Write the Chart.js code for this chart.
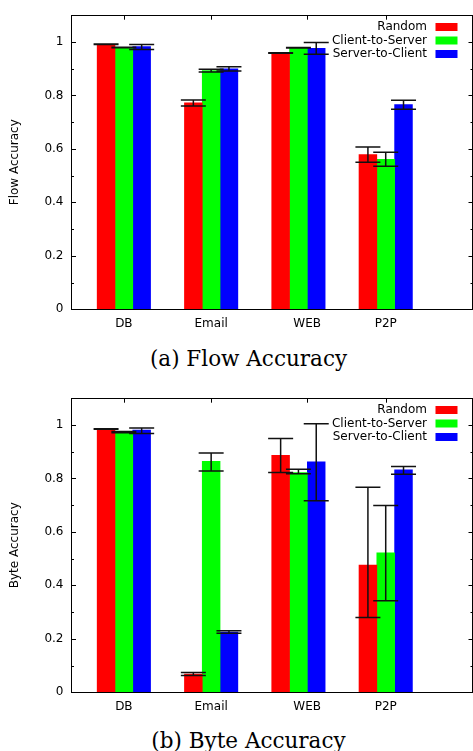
<!DOCTYPE html>
<html>
<head>
<meta charset="utf-8">
<script src="https://cdn.jsdelivr.net/npm/chart.js@4.4.1/dist/chart.umd.min.js"></script>
<style>
body { margin: 0; background: #fff; width: 473px; height: 751px; position: relative; overflow: hidden; }
canvas { position: absolute; left: 0; }
#c1 { top: 0; }
#c2 { top: 383px; }
.cap { position: absolute; left: 0; width: 497px; text-align: center; font-family: "DejaVu Serif"; font-size: 21.5px; line-height: 24px; color: #000; }
</style>
</head>
<body>
<canvas id="c1" width="473" height="340"></canvas>
<div class="cap" style="top:347px">(a) Flow Accuracy</div>
<canvas id="c2" width="473" height="340"></canvas>
<div class="cap" style="top:729px">(b) Byte Accuracy</div>
<script>
var categories = ['DB', 'Email', 'WEB', 'P2P'];
var categoryPos = [1, 2, 3, 4];
var tickPos = [1, 2, 3.1, 4];
var seriesNames = ['Random', 'Client-to-Server', 'Server-to-Client'];
var seriesColors = ['#ff0000', '#00ff00', '#0000ff'];
var yTicks = [0, 0.2, 0.4, 0.6, 0.8, 1];
var yTickLabels = ['0', '0.2', '0.4', '0.6', '0.8', '1'];

// (a) flow accuracy, with error bar low / high
var flowRandom   = [0.991, 0.772, 0.959, 0.579];
var flowRandomLo = [0.990, 0.760, 0.958, 0.550];
var flowRandomHi = [0.992, 0.783, 0.960, 0.607];
var flowC2S      = [0.979, 0.893, 0.978, 0.561];
var flowC2SLo    = [0.978, 0.888, 0.977, 0.535];
var flowC2SHi    = [0.980, 0.898, 0.979, 0.587];
var flowS2C      = [0.983, 0.899, 0.976, 0.766];
var flowS2CLo    = [0.972, 0.891, 0.954, 0.748];
var flowS2CHi    = [0.990, 0.907, 0.998, 0.782];

// (b) byte accuracy
var byteRandom   = [0.985, 0.068, 0.886, 0.476];
var byteRandomLo = [0.984, 0.063, 0.822, 0.280];
var byteRandomHi = [0.986, 0.074, 0.949, 0.767];
var byteC2S      = [0.973, 0.864, 0.822, 0.522];
var byteC2SLo    = [0.971, 0.828, 0.817, 0.342];
var byteC2SHi    = [0.975, 0.895, 0.834, 0.699];
var byteS2C      = [0.981, 0.225, 0.862, 0.832];
var byteS2CLo    = [0.968, 0.221, 0.716, 0.816];
var byteS2CHi    = [0.989, 0.230, 1.004, 0.845];

var sansFont = 'DejaVu Sans';

// ticks inside the box, error bars, box and gnuplot style key
var gnuplotLook = {
    id: 'gnuplotLook',
    beforeDatasetsDraw: function (chart) {
        var ctx = chart.ctx, a = chart.chartArea, y = chart.scales.y, x = chart.scales.x;
        ctx.save();
        ctx.strokeStyle = '#000';
        ctx.lineWidth = 1;
        ctx.beginPath();
        for (var i = 0; i <= 11; i++) {
            var v = i / 10;
            var len = (i % 2 == 0) ? 4.5 : 2.5;
            var py = Math.round(y.getPixelForValue(v)) + 0.5;
            ctx.moveTo(a.left, py); ctx.lineTo(a.left + len, py);
            ctx.moveTo(a.right, py); ctx.lineTo(a.right - len, py);
        }
        tickPos.forEach(function (t) {
            var px = Math.round(x.getPixelForValue(t)) + 0.5;
            ctx.moveTo(px, a.top); ctx.lineTo(px, a.top + 4.5);
            ctx.moveTo(px, a.bottom); ctx.lineTo(px, a.bottom - 4.5);
        });
        ctx.stroke();
        ctx.restore();
    },
    afterDatasetsDraw: function (chart, args, opts) {
        var ctx = chart.ctx, a = chart.chartArea, y = chart.scales.y;
        ctx.save();
        // error bars
        ctx.strokeStyle = '#111';
        ctx.lineWidth = 1.5;
        chart.data.datasets.forEach(function (ds, di) {
            var meta = chart.getDatasetMeta(di);
            meta.data.forEach(function (bar, j) {
                var lo = y.getPixelForValue(opts.lo[di][j]);
                var hi = y.getPixelForValue(opts.hi[di][j]);
                ctx.beginPath();
                ctx.moveTo(bar.x, lo); ctx.lineTo(bar.x, hi);
                ctx.moveTo(bar.x - 12.5, lo); ctx.lineTo(bar.x + 12.5, lo);
                ctx.moveTo(bar.x - 12.5, hi); ctx.lineTo(bar.x + 12.5, hi);
                ctx.stroke();
            });
        });
        // box
        ctx.strokeStyle = '#000';
        ctx.lineWidth = 1;
        var l = Math.floor(a.left) + 0.5, r = Math.ceil(a.right) - 0.5;
        var t = Math.floor(a.top) + 0.5, b = Math.round(a.bottom) + 0.5;
        ctx.strokeRect(l, t, r - l, b - t);
        // key
        ctx.font = '12px "' + sansFont + '"';
        ctx.textAlign = 'right';
        ctx.textBaseline = 'middle';
        chart.data.datasets.forEach(function (ds, di) {
            var ry = a.top + 11.8 + di * 13.5;
            ctx.fillStyle = '#000';
            ctx.fillText(ds.label, 427, ry);
            ctx.fillStyle = ds.backgroundColor;
            ctx.fillRect(435.5, ry - 4, 22, 8);
        });
        ctx.restore();
    }
};

function makeChart(id, yTitle, values, lows, highs) {
    var datasets = values.map(function (vals, k) {
        return {
            label: seriesNames[k],
            data: vals.map(function (v, j) { return { x: categoryPos[j], y: v }; }),
            backgroundColor: seriesColors[k],
            borderWidth: 0,
            barThickness: 17.8
        };
    });
    return new Chart(document.getElementById(id), {
        type: 'bar',
        data: { datasets: datasets },
        options: {
            responsive: false,
            animation: false,
            devicePixelRatio: 1,
            layout: { padding: { top: 6.7, right: 0, left: 0, bottom: 0 } },
            plugins: {
                legend: { display: false },
                tooltip: { enabled: false },
                gnuplotLook: { lo: lows, hi: highs }
            },
            scales: {
                x: {
                    type: 'linear',
                    min: 0.4,
                    max: 5,
                    offset: false,
                    grid: { display: false, drawTicks: false },
                    border: { display: false },
                    afterBuildTicks: function (scale) {
                        scale.ticks = tickPos.map(function (v) { return { value: v }; });
                    },
                    afterFit: function (scale) { scale.height = 30.7; },
                    ticks: {
                        autoSkip: false,
                        maxRotation: 0,
                        padding: 7,
                        color: '#000',
                        font: { family: sansFont, size: 12 },
                        callback: function (v) { return categories[tickPos.indexOf(v)]; }
                    }
                },
                y: {
                    min: 0,
                    max: 1.1,
                    grid: { display: false, drawTicks: false },
                    border: { display: false },
                    afterBuildTicks: function (scale) {
                        scale.ticks = yTicks.map(function (v) { return { value: v }; });
                    },
                    afterFit: function (scale) { scale.width = 71.5; },
                    ticks: {
                        padding: 8,
                        color: '#000',
                        font: { family: sansFont, size: 12 },
                        callback: function (v) { return yTickLabels[yTicks.indexOf(v)]; }
                    },
                    title: {
                        display: true,
                        text: yTitle,
                        color: '#000',
                        padding: { top: 8, bottom: 0 },
                        font: { family: sansFont, size: 12 }
                    }
                }
            }
        },
        plugins: [gnuplotLook]
    });
}

makeChart('c1', 'Flow Accuracy',
    [flowRandom, flowC2S, flowS2C],
    [flowRandomLo, flowC2SLo, flowS2CLo],
    [flowRandomHi, flowC2SHi, flowS2CHi]);

makeChart('c2', 'Byte Accuracy',
    [byteRandom, byteC2S, byteS2C],
    [byteRandomLo, byteC2SLo, byteS2CLo],
    [byteRandomHi, byteC2SHi, byteS2CHi]);
</script>
</body>
</html>
